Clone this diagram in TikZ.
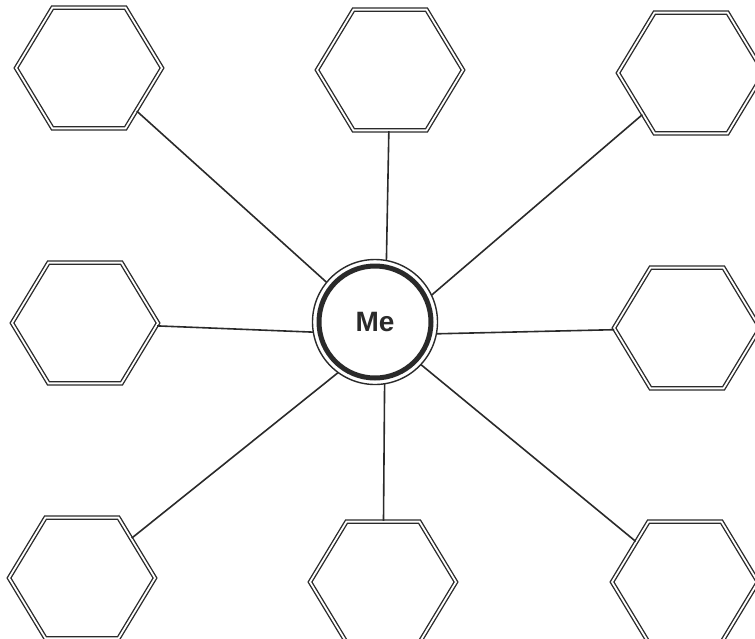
\documentclass[tikz,border=0pt]{standalone}
\usepackage{fontspec}
\setmainfont{Liberation Sans}
\usetikzlibrary{shapes.geometric}
\definecolor{ink}{HTML}{2A2A2A}
\tikzset{
  hexa/.style={regular polygon, regular polygon sides=6, minimum size=146pt, inner sep=0pt,
    yscale=0.955, transform shape,
    draw=ink, line width=1.35pt, double=white, double distance=1.8pt},
  link/.style={draw=ink, line width=1.6pt},
}
\begin{document}
\begin{tikzpicture}[x=1pt,y=-1pt]
\useasboundingbox (0,0) rectangle (755,638);
\node[hexa] (h1) at (89,68) {};
\node[hexa] (h2) at (390,70) {};
\node[hexa] (h3) at (691,73) {};
\node[hexa] (h4) at (85,323) {};
\node[hexa] (h5) at (687,328) {};
\node[hexa] (h6) at (82,578) {};
\node[hexa] (h7) at (383,582) {};
\node[hexa] (h8) at (685,582) {};
\coordinate (hub) at (385,335);
\foreach \h in {h1,h2,h3,h4,h5,h6,h7,h8} \draw[link] (hub) -- (\h);
\node[circle, minimum size=125pt, inner sep=0pt, draw=ink, line width=1.4pt, fill=white] (ring) at (375,322) {};
\node[circle, minimum size=112pt, inner sep=0pt, draw=ink, line width=5pt, fill=white,
  font=\bfseries\fontsize{28}{32}\selectfont, text=ink] (me) at (375,322) {Me};
\end{tikzpicture}
\end{document}
